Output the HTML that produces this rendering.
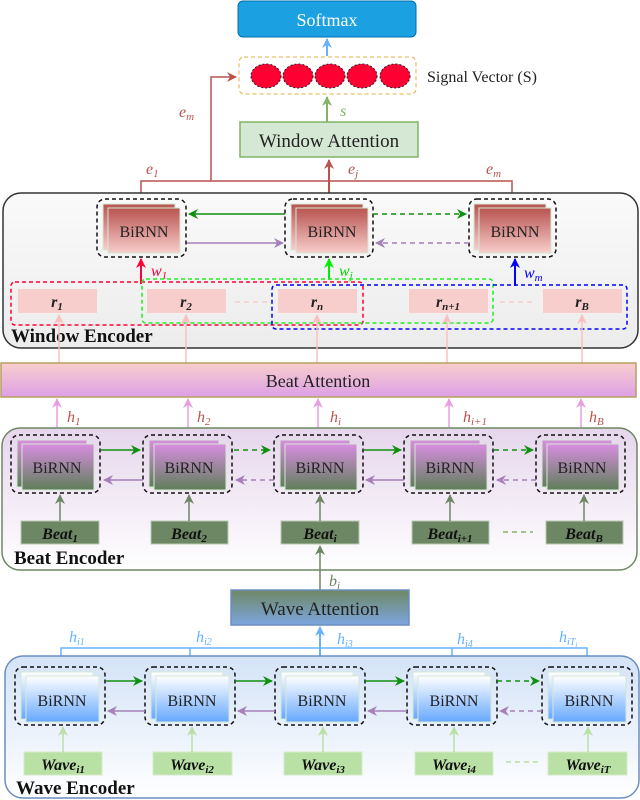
<!DOCTYPE html>
<html><head><meta charset="utf-8"><style>
html,body{margin:0;padding:0;background:#fff;}
svg{display:block;font-family:"Liberation Serif",serif;}
.t{font-size:16px;fill:#222;}
.m{font-style:italic;font-size:16px;}
</style></head><body>
<svg width="640" height="800" viewBox="0 0 640 800" xmlns="http://www.w3.org/2000/svg">
<defs>
<linearGradient id="gw" x1="0" y1="0" x2="0" y2="1"><stop offset="0" stop-color="#fafafa"/><stop offset="1" stop-color="#ececec"/></linearGradient>
<linearGradient id="gr" x1="0" y1="0" x2="0" y2="1"><stop offset="0" stop-color="#b85450"/><stop offset="1" stop-color="#f8cecc"/></linearGradient>
<linearGradient id="gba" x1="0" y1="0" x2="0" y2="1"><stop offset="0" stop-color="#f8cecc"/><stop offset="1" stop-color="#dda0e6"/></linearGradient>
<linearGradient id="gbe" x1="0" y1="0" x2="0" y2="1"><stop offset="0" stop-color="#e6d6ec"/><stop offset="1" stop-color="#ffffff"/></linearGradient>
<linearGradient id="gbr" x1="0" y1="0" x2="0" y2="1"><stop offset="0" stop-color="#d88ee0"/><stop offset="1" stop-color="#5f7e5a"/></linearGradient>
<linearGradient id="gwa" x1="0" y1="0" x2="0" y2="1"><stop offset="0" stop-color="#6d8764"/><stop offset="1" stop-color="#7ea6e0"/></linearGradient>
<linearGradient id="gwe" x1="0" y1="0" x2="0" y2="1"><stop offset="0" stop-color="#d4e3f7"/><stop offset="1" stop-color="#ffffff"/></linearGradient>
<linearGradient id="gbl" x1="0" y1="0" x2="0" y2="1"><stop offset="0" stop-color="#ffffff"/><stop offset="1" stop-color="#66a8ff"/></linearGradient>
<marker id="aB" viewBox="0 0 10 10" refX="9" refY="5" markerWidth="10" markerHeight="10" markerUnits="userSpaceOnUse" orient="auto"><path d="M0,0L10,5L0,10L3,5z" fill="#66b2ff"/></marker>
<marker id="aG" viewBox="0 0 10 10" refX="9" refY="5" markerWidth="10" markerHeight="10" markerUnits="userSpaceOnUse" orient="auto"><path d="M0,0L10,5L0,10L3,5z" fill="#82b366"/></marker>
<marker id="aR" viewBox="0 0 10 10" refX="9" refY="5" markerWidth="10" markerHeight="10" markerUnits="userSpaceOnUse" orient="auto"><path d="M0,0L10,5L0,10L3,5z" fill="#b85450"/></marker>
<marker id="aDG" viewBox="0 0 10 10" refX="9" refY="5" markerWidth="10" markerHeight="10" markerUnits="userSpaceOnUse" orient="auto"><path d="M0,0L10,5L0,10L3,5z" fill="#109010"/></marker>
<marker id="aP" viewBox="0 0 10 10" refX="9" refY="5" markerWidth="10" markerHeight="10" markerUnits="userSpaceOnUse" orient="auto"><path d="M0,0L10,5L0,10L3,5z" fill="#a680b8"/></marker>
<marker id="aRR" viewBox="0 0 10 10" refX="9" refY="5" markerWidth="10" markerHeight="10" markerUnits="userSpaceOnUse" orient="auto"><path d="M0,0L10,5L0,10L3,5z" fill="#ff0033"/></marker>
<marker id="aLG" viewBox="0 0 10 10" refX="9" refY="5" markerWidth="10" markerHeight="10" markerUnits="userSpaceOnUse" orient="auto"><path d="M0,0L10,5L0,10L3,5z" fill="#00ee00"/></marker>
<marker id="aBB" viewBox="0 0 10 10" refX="9" refY="5" markerWidth="10" markerHeight="10" markerUnits="userSpaceOnUse" orient="auto"><path d="M0,0L10,5L0,10L3,5z" fill="#0000ff"/></marker>
<marker id="aPk" viewBox="0 0 10 10" refX="9" refY="5" markerWidth="10" markerHeight="10" markerUnits="userSpaceOnUse" orient="auto"><path d="M0,0L10,5L0,10L3,5z" fill="#f8c0c0"/></marker>
<marker id="aPu" viewBox="0 0 10 10" refX="9" refY="5" markerWidth="10" markerHeight="10" markerUnits="userSpaceOnUse" orient="auto"><path d="M0,0L10,5L0,10L3,5z" fill="#e6a0e0"/></marker>
<marker id="aGG" viewBox="0 0 10 10" refX="9" refY="5" markerWidth="10" markerHeight="10" markerUnits="userSpaceOnUse" orient="auto"><path d="M0,0L10,5L0,10L3,5z" fill="#6d8764"/></marker>
<marker id="aLg" viewBox="0 0 10 10" refX="9" refY="5" markerWidth="10" markerHeight="10" markerUnits="userSpaceOnUse" orient="auto"><path d="M0,0L10,5L0,10L3,5z" fill="#b9e0a5"/></marker>
</defs>

<!-- Softmax -->
<rect x="238" y="1" width="178" height="36" rx="5" fill="#1ba1e2" stroke="#006eaf"/>
<text x="327" y="26" text-anchor="middle" font-size="18" fill="#fff">Softmax</text>
<line x1="327" y1="56" x2="327" y2="39" stroke="#66b2ff" stroke-width="2" marker-end="url(#aB)"/>
<!-- Signal vector -->
<rect x="239" y="57" width="177" height="37" rx="5" fill="none" stroke="#e6b040" stroke-dasharray="4,3"/>
<g fill="#ff0033" stroke="#222" stroke-dasharray="2,2">
<ellipse cx="266" cy="76" rx="15" ry="12"/><ellipse cx="298" cy="76" rx="15" ry="12"/><ellipse cx="330" cy="76" rx="15" ry="12"/><ellipse cx="362" cy="76" rx="15" ry="12"/><ellipse cx="395" cy="76" rx="15" ry="12"/>
</g>
<text x="427" y="82" font-size="16" fill="#222">Signal Vector (S)</text>
<line x1="327" y1="122" x2="327" y2="97" stroke="#82b366" stroke-width="2" marker-end="url(#aG)"/>
<text x="340" y="116" class="m" fill="#82b366">s</text>
<!-- Window attention -->
<rect x="240" y="122" width="178" height="35" fill="#d5e8d4" stroke="#82b366" stroke-width="1.5"/>
<text x="329" y="147" text-anchor="middle" font-size="19" fill="#222">Window Attention</text>
<!-- e lines -->
<g stroke="#b85450" stroke-width="1.5" fill="none">
<polyline points="141,200 141,181 512,181 512,200"/>
<polyline points="211,181 211,77 236,77" marker-end="url(#aR)"/>
<line x1="329" y1="200" x2="329" y2="160" stroke-width="2" marker-end="url(#aR)"/>
</g>
<g fill="#b85450" class="m">
<text x="179" y="117">e<tspan font-size="11" dy="3">m</tspan></text>
<text x="146" y="174">e<tspan font-size="11" dy="3">1</tspan></text>
<text x="348" y="174">e<tspan font-size="11" dy="3">j</tspan></text>
<text x="486" y="174">e<tspan font-size="11" dy="3">m</tspan></text>
</g>
<!-- Window encoder -->
<rect x="3" y="193" width="635" height="155" rx="18" fill="url(#gw)" stroke="#333" stroke-width="1.5"/>
<g>
<rect x="97" y="199" width="89" height="58" rx="8" fill="none" stroke="#111" stroke-width="1.5" stroke-dasharray="4,3"/>
<rect x="103" y="204" width="72" height="46" fill="url(#gr)" stroke="#d5e8d4"/>
<rect x="108" y="208" width="72" height="45" fill="url(#gr)" stroke="#d5e8d4"/>
<text x="144" y="237" text-anchor="middle" class="t">BiRNN</text>
<rect x="285" y="199" width="88" height="58" rx="8" fill="none" stroke="#111" stroke-width="1.5" stroke-dasharray="4,3"/>
<rect x="291" y="204" width="72" height="46" fill="url(#gr)" stroke="#d5e8d4"/>
<rect x="296" y="208" width="72" height="45" fill="url(#gr)" stroke="#d5e8d4"/>
<text x="332" y="237" text-anchor="middle" class="t">BiRNN</text>
<rect x="469" y="199" width="87" height="58" rx="8" fill="none" stroke="#111" stroke-width="1.5" stroke-dasharray="4,3"/>
<rect x="474" y="204" width="72" height="46" fill="url(#gr)" stroke="#d5e8d4"/>
<rect x="479" y="208" width="72" height="45" fill="url(#gr)" stroke="#d5e8d4"/>
<text x="515" y="237" text-anchor="middle" class="t">BiRNN</text>
</g>
<g stroke-width="1.5" fill="none">
<line x1="285" y1="214" x2="189" y2="214" stroke="#109010" marker-end="url(#aDG)"/>
<line x1="373" y1="214" x2="466" y2="214" stroke="#109010" stroke-dasharray="5,4" marker-end="url(#aDG)"/>
<line x1="187" y1="243" x2="283" y2="243" stroke="#a680b8" marker-end="url(#aP)"/>
<line x1="469" y1="243" x2="376" y2="243" stroke="#a680b8" stroke-dasharray="5,4" marker-end="url(#aP)"/>
<line x1="141" y1="284" x2="141" y2="259" stroke="#ff0033" stroke-width="2" marker-end="url(#aRR)"/>
<line x1="329" y1="280" x2="329" y2="259" stroke="#00ee00" stroke-width="2" marker-end="url(#aLG)"/>
<line x1="515" y1="286" x2="515" y2="259" stroke="#0000ff" stroke-width="2" marker-end="url(#aBB)"/>
</g>
<text x="151" y="276" class="m" fill="#ff0033" font-size="18">w<tspan font-size="11" dy="3">1</tspan></text>
<text x="339" y="276" class="m" fill="#00dd00" font-size="18">w<tspan font-size="11" dy="3">j</tspan></text>
<text x="524" y="278" class="m" fill="#0000ff" font-size="18">w<tspan font-size="11" dy="3">m</tspan></text>
<g fill="#f8cecc">
<rect x="18" y="289" width="79" height="24"/><rect x="147" y="289" width="79" height="24"/><rect x="278" y="289" width="79" height="24"/><rect x="409" y="289" width="79" height="24"/><rect x="543" y="289" width="79" height="24"/>
</g>
<g class="m" font-weight="bold" fill="#222" text-anchor="middle">
<text x="57" y="307">r<tspan font-size="11" dy="3">1</tspan></text>
<text x="186" y="307">r<tspan font-size="11" dy="3">2</tspan></text>
<text x="317" y="307">r<tspan font-size="11" dy="3">n</tspan></text>
<text x="448" y="307">r<tspan font-size="11" dy="3">n+1</tspan></text>
<text x="582" y="307">r<tspan font-size="11" dy="3">B</tspan></text>
</g>
<g stroke="#f8cecc" stroke-width="1.5" stroke-dasharray="5,4">
<line x1="235" y1="302" x2="267" y2="302"/><line x1="500" y1="302" x2="532" y2="302"/>
</g>
<rect x="11" y="282" width="352" height="43" rx="4" fill="none" stroke="#ff0033" stroke-width="1.5" stroke-dasharray="4,3"/>
<rect x="142" y="279" width="351" height="44" rx="4" fill="none" stroke="#22ee22" stroke-width="1.5" stroke-dasharray="4,3"/>
<rect x="272" y="285" width="355" height="44" rx="4" fill="none" stroke="#0000ff" stroke-width="1.5" stroke-dasharray="4,3"/>
<text x="11" y="342" font-weight="bold" font-size="19" fill="#111">Window Encoder</text>
<g stroke="#f8c0c0" stroke-width="1.5">
<line x1="59" y1="363" x2="59" y2="315" marker-end="url(#aPk)"/><line x1="186" y1="363" x2="186" y2="315" marker-end="url(#aPk)"/><line x1="317" y1="363" x2="317" y2="315" marker-end="url(#aPk)"/><line x1="447" y1="363" x2="447" y2="315" marker-end="url(#aPk)"/><line x1="582" y1="363" x2="582" y2="315" marker-end="url(#aPk)"/>
</g>
<!-- Beat attention -->
<rect x="1" y="363" width="635" height="34" fill="url(#gba)" stroke="#b5a060" stroke-width="1.5"/>
<text x="318" y="387" text-anchor="middle" font-size="18" fill="#222">Beat Attention</text>
<g stroke="#e6a0e0" stroke-width="1.5">
<line x1="57" y1="436" x2="57" y2="399" marker-end="url(#aPu)"/><line x1="188" y1="436" x2="188" y2="399" marker-end="url(#aPu)"/><line x1="318" y1="436" x2="318" y2="399" marker-end="url(#aPu)"/><line x1="449" y1="436" x2="449" y2="399" marker-end="url(#aPu)"/><line x1="581" y1="436" x2="581" y2="399" marker-end="url(#aPu)"/>
</g>
<g class="m" fill="#b85450">
<text x="67" y="422">h<tspan font-size="11" dy="3">1</tspan></text>
<text x="197" y="422">h<tspan font-size="11" dy="3">2</tspan></text>
<text x="330" y="422">h<tspan font-size="11" dy="3">i</tspan></text>
<text x="463" y="422">h<tspan font-size="11" dy="3">i+1</tspan></text>
<text x="589" y="422">h<tspan font-size="11" dy="3">B</tspan></text>
</g>
<!-- Beat encoder -->
<rect x="2" y="428" width="635" height="142" rx="18" fill="url(#gbe)" stroke="#6d8764" stroke-width="1.5"/>
<g id="bb">
<rect x="11" y="435" width="89" height="58" rx="8" fill="none" stroke="#111" stroke-width="1.5" stroke-dasharray="4,3"/>
<rect x="17" y="440" width="70" height="47" fill="url(#gbr)" stroke="#d5e8d4"/>
<rect x="22" y="444" width="72" height="46" fill="url(#gbr)" stroke="#d5e8d4"/>
<text x="57" y="473" text-anchor="middle" class="t">BiRNN</text>
</g>
<use href="#bb" x="132"/><use href="#bb" x="263"/><use href="#bb" x="393"/><use href="#bb" x="525"/>
<g stroke-width="1.5">
<line x1="101" y1="450" x2="140" y2="450" stroke="#109010" marker-end="url(#aDG)"/>
<line x1="234" y1="450" x2="270" y2="450" stroke="#109010" stroke-dasharray="5,4" marker-end="url(#aDG)"/>
<line x1="364" y1="450" x2="401" y2="450" stroke="#109010" marker-end="url(#aDG)"/>
<line x1="494" y1="450" x2="533" y2="450" stroke="#109010" stroke-dasharray="5,4" marker-end="url(#aDG)"/>
<line x1="143" y1="480" x2="104" y2="480" stroke="#a680b8" marker-end="url(#aP)"/>
<line x1="274" y1="480" x2="236" y2="480" stroke="#a680b8" stroke-dasharray="5,4" marker-end="url(#aP)"/>
<line x1="404" y1="480" x2="366" y2="480" stroke="#a680b8" marker-end="url(#aP)"/>
<line x1="536" y1="480" x2="497" y2="480" stroke="#a680b8" stroke-dasharray="5,4" marker-end="url(#aP)"/>
</g>
<g fill="#6d8764" stroke="#b9c9b0">
<rect x="21" y="521" width="78" height="23"/><rect x="151" y="521" width="77" height="23"/><rect x="281" y="521" width="78" height="23"/><rect x="412" y="521" width="77" height="23"/><rect x="546" y="521" width="77" height="23"/>
</g>
<g stroke="#6d8764" stroke-width="1.5">
<line x1="60" y1="521" x2="60" y2="495" marker-end="url(#aGG)"/><line x1="189" y1="521" x2="189" y2="495" marker-end="url(#aGG)"/><line x1="320" y1="521" x2="320" y2="495" marker-end="url(#aGG)"/><line x1="450" y1="521" x2="450" y2="495" marker-end="url(#aGG)"/><line x1="584" y1="521" x2="584" y2="495" marker-end="url(#aGG)"/>
<line x1="503" y1="532" x2="533" y2="532" stroke="#82b366" stroke-dasharray="5,4"/>
</g>
<g class="m" font-weight="bold" fill="#111" text-anchor="middle" font-size="17">
<text x="60" y="539">Beat<tspan font-size="11" dy="3">1</tspan></text>
<text x="189" y="539">Beat<tspan font-size="11" dy="3">2</tspan></text>
<text x="320" y="539">Beat<tspan font-size="11" dy="3">i</tspan></text>
<text x="450" y="539">Beat<tspan font-size="11" dy="3">i+1</tspan></text>
<text x="584" y="539">Beat<tspan font-size="11" dy="3">B</tspan></text>
</g>
<text x="14" y="564" font-weight="bold" font-size="19" fill="#111">Beat Encoder</text>
<line x1="320" y1="590" x2="320" y2="546" stroke="#6d8764" stroke-width="1.5" marker-end="url(#aGG)"/>
<text x="329" y="586" class="m" fill="#6d8764">b<tspan font-size="11" dy="3">i</tspan></text>
<!-- Wave attention -->
<rect x="231" y="590" width="178" height="35" fill="url(#gwa)" stroke="#6c8ebf" stroke-width="1.5"/>
<text x="320" y="615" text-anchor="middle" font-size="19" fill="#222">Wave Attention</text>
<g stroke="#66b2ff" stroke-width="1.5" fill="none">
<polyline points="61,667 61,648 587,648 587,667"/>
<line x1="190" y1="648" x2="190" y2="667"/><line x1="452" y1="648" x2="452" y2="667"/>
<line x1="320" y1="667" x2="320" y2="627" stroke-width="2" marker-end="url(#aB)"/>
</g>
<g class="m" fill="#66b2ff">
<text x="69" y="642">h<tspan font-size="10" dy="3">i1</tspan></text>
<text x="196" y="642">h<tspan font-size="10" dy="3">i2</tspan></text>
<text x="337" y="644">h<tspan font-size="10" dy="3">i3</tspan></text>
<text x="457" y="644">h<tspan font-size="10" dy="3">i4</tspan></text>
<text x="559" y="642">h<tspan font-size="10" dy="3">iT</tspan><tspan font-size="7" dy="2">i</tspan></text>
</g>
<!-- Wave encoder -->
<rect x="5" y="656" width="634" height="142" rx="18" fill="url(#gwe)" stroke="#6c8ebf" stroke-width="1.5"/>
<g id="wb">
<rect x="15" y="667" width="90" height="58" rx="8" fill="none" stroke="#111" stroke-width="1.5" stroke-dasharray="4,3"/>
<rect x="21" y="672" width="72" height="47" fill="url(#gbl)" stroke="#d5e8d4"/>
<rect x="26" y="676" width="73" height="46" fill="url(#gbl)" stroke="#d5e8d4"/>
<text x="62" y="706" text-anchor="middle" class="t">BiRNN</text>
</g>
<use href="#wb" x="130"/><use href="#wb" x="260"/><use href="#wb" x="392"/><use href="#wb" x="527"/>
<g stroke-width="1.5">
<line x1="106" y1="681" x2="142" y2="681" stroke="#109010" marker-end="url(#aDG)"/>
<line x1="235" y1="681" x2="272" y2="681" stroke="#109010" marker-end="url(#aDG)"/>
<line x1="365" y1="681" x2="404" y2="681" stroke="#109010" marker-end="url(#aDG)"/>
<line x1="497" y1="681" x2="539" y2="681" stroke="#109010" stroke-dasharray="5,4" marker-end="url(#aDG)"/>
<line x1="145" y1="711" x2="108" y2="711" stroke="#a680b8" marker-end="url(#aP)"/>
<line x1="275" y1="711" x2="238" y2="711" stroke="#a680b8" marker-end="url(#aP)"/>
<line x1="407" y1="711" x2="368" y2="711" stroke="#a680b8" marker-end="url(#aP)"/>
<line x1="542" y1="711" x2="500" y2="711" stroke="#a680b8" stroke-dasharray="5,4" marker-end="url(#aP)"/>
</g>
<g fill="#b9e0a5" stroke="#d5ecc8">
<rect x="24" y="752" width="78" height="23"/><rect x="153" y="752" width="79" height="23"/><rect x="284" y="752" width="78" height="23"/><rect x="415" y="752" width="78" height="23"/><rect x="548" y="752" width="79" height="23"/>
</g>
<g stroke="#b9e0a5" stroke-width="1.5">
<line x1="63" y1="752" x2="63" y2="727" marker-end="url(#aLg)"/><line x1="192" y1="752" x2="192" y2="727" marker-end="url(#aLg)"/><line x1="323" y1="752" x2="323" y2="727" marker-end="url(#aLg)"/><line x1="454" y1="752" x2="454" y2="727" marker-end="url(#aLg)"/><line x1="588" y1="752" x2="588" y2="727" marker-end="url(#aLg)"/>
<line x1="506" y1="762" x2="538" y2="762" stroke-dasharray="5,4"/>
</g>
<g class="m" font-weight="bold" fill="#111" text-anchor="middle" font-size="17">
<text x="63" y="770">Wave<tspan font-size="11" dy="3">i1</tspan></text>
<text x="192" y="770">Wave<tspan font-size="11" dy="3">i2</tspan></text>
<text x="323" y="770">Wave<tspan font-size="11" dy="3">i3</tspan></text>
<text x="454" y="770">Wave<tspan font-size="11" dy="3">i4</tspan></text>
<text x="588" y="770">Wave<tspan font-size="11" dy="3">iT</tspan></text>
</g>
<text x="16" y="794" font-weight="bold" font-size="19" fill="#111">Wave Encoder</text>
</svg>
</body></html>
